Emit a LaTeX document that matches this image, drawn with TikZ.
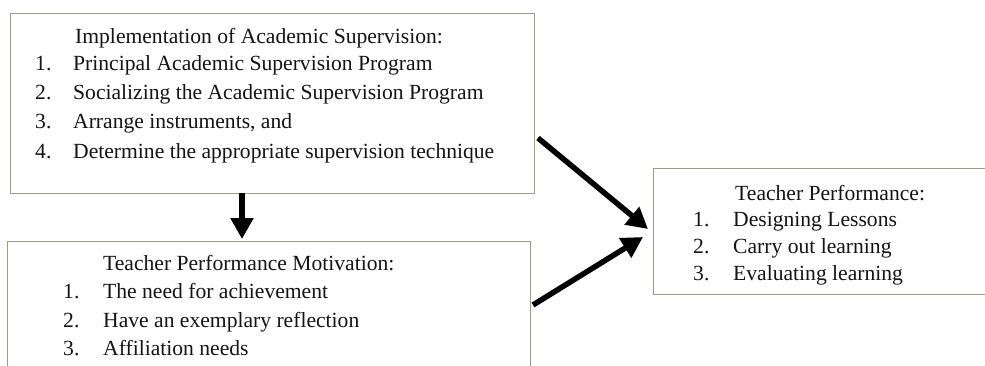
\documentclass[tikz,border=0pt]{standalone}
\usepackage{fontspec}
\setmainfont{Liberation Serif}
\usetikzlibrary{arrows.meta}
\definecolor{boxline}{RGB}{150,162,135}
\definecolor{ink}{RGB}{20,20,20}
\begin{document}
\begin{tikzpicture}[x=1pt,y=-1pt,
  box/.style={draw=boxline,line width=1.4pt,fill=white,inner sep=0pt,anchor=north west},
  txt/.style={anchor=base west,inner sep=0pt,text=ink,font=\fontsize{21.6}{25}\selectfont},
  arr/.style={draw=black,line width=5.5pt,-{Triangle[length=21pt,width=22pt]}}]
\useasboundingbox (0,0) rectangle (985,365);
\clip (0,0) rectangle (985,365);
\fill[white] (0,0) rectangle (985,365);
% boxes
\node[box,minimum width=524pt,minimum height=180pt] (top) at (10,13) {};
\node[box,minimum width=523pt,minimum height=160pt] (mid) at (7,241) {};
\node[box,minimum width=360pt,minimum height=126pt] (res) at (653,168) {};
% top box text
\node[txt] (t0) at (75,43) {Implementation of Academic Supervision:};
\node[txt] (t1n) at (35,70) {1.};
\node[txt] (t1) at (73,70) {Principal Academic Supervision Program};
\node[txt] (t2n) at (35,99) {2.};
\node[txt] (t2) at (73,99) {Socializing the Academic Supervision Program};
\node[txt] (t3n) at (35,128) {3.};
\node[txt] (t3) at (73,128) {Arrange instruments, and};
\node[txt] (t4n) at (35,158) {4.};
\node[txt] (t4) at (73,158) {Determine the appropriate supervision technique};
% middle box text
\node[txt] (m0) at (103,270) {Teacher Performance Motivation:};
\node[txt] (m1n) at (63,298) {1.};
\node[txt] (m1) at (103,298) {The need for achievement};
\node[txt] (m2n) at (63,327) {2.};
\node[txt] (m2) at (103,327) {Have an exemplary reflection};
\node[txt] (m3n) at (63,355) {3.};
\node[txt] (m3) at (103,355) {Affiliation needs};
% result box text
\node[txt] (r0) at (735,200) {Teacher Performance:};
\node[txt] (r1n) at (693,226) {1.};
\node[txt] (r1) at (733,226) {Designing Lessons};
\node[txt] (r2n) at (693,253) {2.};
\node[txt] (r2) at (733,253) {Carry out learning};
\node[txt] (r3n) at (693,280) {3.};
\node[txt] (r3) at (733,280) {Evaluating learning};
% arrows
\coordinate (dA) at (242,193);
\coordinate (dB) at (242,239);
\coordinate (aA) at (538,138);
\coordinate (aB) at (648,229);
\coordinate (bA) at (533,305);
\coordinate (bB) at (643,237);
\draw[arr] (dA) -- (dB);
\draw[arr] (aA) -- (aB);
\draw[arr] (bA) -- (bB);
\end{tikzpicture}
\end{document}
